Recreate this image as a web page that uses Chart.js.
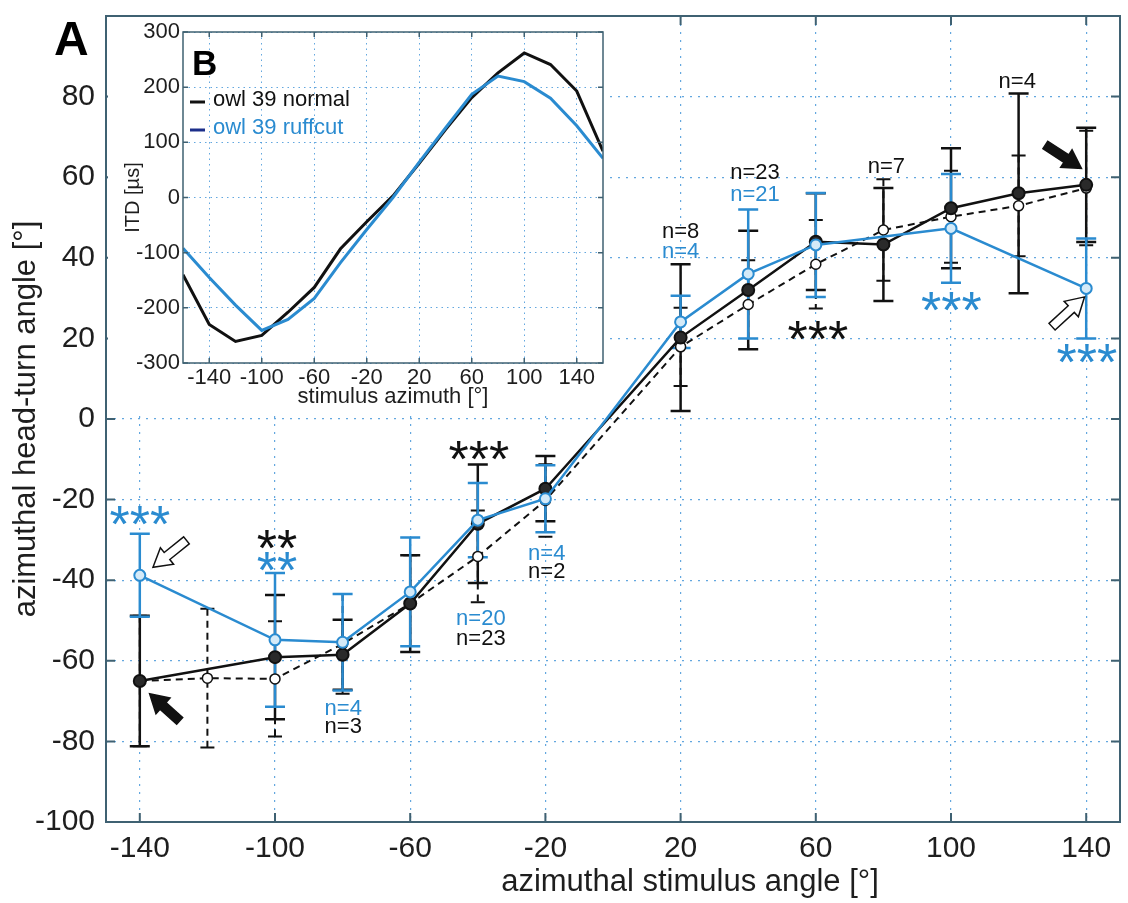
<!DOCTYPE html>
<html>
<head>
<meta charset="utf-8">
<script src="https://cdn.jsdelivr.net/npm/chart.js@4.4.1/dist/chart.umd.min.js"></script>
<style>
    html, body { margin: 0; padding: 0; background: #fff; }
    #wrap { position: relative; width: 1128px; height: 903px; }
    #main { position: absolute; left: 0; top: 0; }
    #inset { position: absolute; left: 108px; top: 17px; background: #fff; }
</style>
</head>
<body>
<div id="wrap">
    <canvas id="main" width="1128" height="903"></canvas>
    <canvas id="inset" width="500" height="393"></canvas>
</div>
<script>
// ---- panel A: head turns (mean +- sd) ----
const xTicks = [-140, -100, -60, -20, 20, 60, 100, 140]
const yTicks = [-100, -80, -60, -40, -20, 0, 20, 40, 60, 80]

// owl 39 ruffcut (blue)
const ruffAz = [-140, -100, -80, -60, -40, -20, 20, 40, 60, 100, 140]
const ruffMean = [-38.8, -54.8, -55.4, -42.9, -25.1, -19.8, 24.1, 36, 43.2, 47.3, 32.4]
const ruffSd = [10.3, 16.6, 12, 13.5, 9.2, 8.3, 6.5, 16, 12.9, 13.5, 12.4]

// owl 39 normal (solid black)
const normalAz = [-140, -100, -80, -60, -40, -20, 20, 40, 60, 80, 100, 120, 140]
const normalMean = [-65, -59.1, -58.5, -45.8, -26, -17.3, 20.2, 32, 44, 43.3, 52.3, 56, 58.1]
const normalSd = [16.2, 15.4, 8.7, 12, 14.7, 8.1, 18.2, 14.7, 12, 14, 14.9, 24.8, 14.2]

// population / reference curve (dashed black)
const refAz = [-140, -120, -100, -80, -60, -40, -20, 20, 40, 60, 80, 100, 120, 140]
const refMean = [-65, -64.3, -64.5, -55.8, -45.8, -34.1, -20.2, 17.9, 28.4, 38.4, 46.9, 50.2, 52.9, 57.3]
const refSd = [16.2, 17.2, 14.3, 12.4, 12, 11.4, 9, 9.7, 11, 11, 12.6, 11.4, 12.5, 14.2]

// ---- panel B: ITD vs azimuth ----
const itdAz = [-160, -140, -120, -100, -80, -60, -40, -20, 0, 20, 40, 60, 80, 100, 120, 140, 160]
const itdNormal = [-140, -230, -261, -250, -208, -163, -93, -44, 3, 62, 123, 181, 226, 262, 241, 193, 84]
const itdRuff = [-92, -145, -195, -241, -221, -183, -118, -58, 0, 64, 126, 187, 220, 210, 180, 130, 71]
const itdXTicks = [-140, -100, -60, -20, 20, 60, 100, 140]
const itdYTicks = [-300, -200, -100, 0, 100, 200, 300]

const FONT = "'Liberation Sans', Arial, sans-serif"
const BLUE = '#2a8bd0'
const INK = '#111111'
const TEXT = '#1e1e1e'
const AXIS = '#3f6172'
const GRID = 'rgba(60,145,215,0.8)'

// annotations in data units
const nLabels = [
    { text: 'n=8', x: 20, y: 46.4, color: INK },
    { text: 'n=4', x: 20, y: 41.4, color: BLUE },
    { text: 'n=23', x: 42, y: 61.1, color: INK },
    { text: 'n=21', x: 42, y: 55.6, color: BLUE },
    { text: 'n=7', x: 80.9, y: 62.6, color: INK },
    { text: 'n=4', x: 119.6, y: 83.7, color: INK },
    { text: 'n=4', x: -79.8, y: -71.9, color: BLUE },
    { text: 'n=3', x: -79.8, y: -76.5, color: INK },
    { text: 'n=20', x: -39.1, y: -49.6, color: BLUE },
    { text: 'n=23', x: -39.1, y: -54.6, color: INK },
    { text: 'n=4', x: -19.6, y: -33.4, color: BLUE },
    { text: 'n=2', x: -19.6, y: -38.0, color: INK }
]
const stars = [
    { text: '***', x: 60.6, y: 21.5, color: INK },
    { text: '***', x: 100.1, y: 28.8, color: BLUE },
    { text: '***', x: 140.2, y: 15.9, color: BLUE },
    { text: '***', x: -140, y: -24.4, color: BLUE },
    { text: '**', x: -99.4, y: -30.4, color: INK },
    { text: '**', x: -99.4, y: -35.8, color: BLUE },
    { text: '***', x: -39.7, y: -8.2, color: INK }
]
const arrows = [
    { from: [-128.2, -74.9], to: [-137.1, -68.2], fill: INK },
    { from: [-126.2, -30.1], to: [-136.1, -36.8], fill: '#fff' },
    { from: [127.9, 68.0], to: [138.6, 62.2], fill: INK },
    { from: [129.9, 22.9], to: [139.5, 30.3], fill: '#fff' }
]

const pts = (xs, ys) => xs.map((x, i) => ({ x: x, y: ys[i] }))

// axis sizes are fixed by hand, and the label overhang padding is dropped
const fixSize = (w, h) => s => {
    if (w) s.width = w
    if (h) s.height = h
    s.paddingTop = s.paddingBottom = s.paddingLeft = s.paddingRight = 0
}

// box round the axes plus MATLAB-style inward ticks
const frame = {
    id: 'frame',
    afterDraw(chart, args, opts) {
        const { ctx, chartArea: a, scales: { x, y } } = chart
        ctx.save()
        ctx.strokeStyle = AXIS
        ctx.lineWidth = opts.width
        ctx.strokeRect(a.left, a.top, a.right - a.left, a.bottom - a.top)
        ctx.beginPath()
        x.ticks.forEach(t => {
            const px = x.getPixelForValue(t.value)
            ctx.moveTo(px, a.bottom); ctx.lineTo(px, a.bottom - opts.tick)
            ctx.moveTo(px, a.top); ctx.lineTo(px, a.top + opts.tick)
        })
        y.ticks.forEach(t => {
            const py = y.getPixelForValue(t.value)
            ctx.moveTo(a.left, py); ctx.lineTo(a.left + opts.tick, py)
            ctx.moveTo(a.right, py); ctx.lineTo(a.right - opts.tick, py)
        })
        ctx.stroke()
        ctx.restore()
    }
}

const errorBars = {
    id: 'errorBars',
    beforeDatasetsDraw(chart) {
        const { ctx, scales: { x, y } } = chart
        chart.data.datasets.slice().reverse().forEach(ds => {
            if (!ds.sd) return
            ctx.save()
            ctx.strokeStyle = ds.borderColor
            ctx.lineWidth = ds.barWidth
            const half = ds.capWidth / 2
            ds.data.forEach((p, i) => {
                const px = x.getPixelForValue(p.x)
                const top = y.getPixelForValue(p.y + ds.sd[i])
                const bot = y.getPixelForValue(p.y - ds.sd[i])
                ctx.setLineDash(ds.borderDash || [])
                ctx.beginPath()
                ctx.moveTo(px, top); ctx.lineTo(px, bot)
                ctx.stroke()
                ctx.setLineDash([])
                ctx.beginPath()
                ctx.moveTo(px - half, top); ctx.lineTo(px + half, top)
                ctx.moveTo(px - half, bot); ctx.lineTo(px + half, bot)
                ctx.stroke()
            })
            ctx.restore()
        })
    }
}

function drawArrow(ctx, x0, y0, x1, y1, fill) {
    const len = Math.hypot(x1 - x0, y1 - y0)
    const dx = (x1 - x0) / len, dy = (y1 - y0) / len
    const nx = -dy, ny = dx
    const sw = 4.5, hw = 10.5, hl = 18
    const bx = x1 - dx * hl, by = y1 - dy * hl
    ctx.beginPath()
    ctx.moveTo(x0 + nx * sw, y0 + ny * sw)
    ctx.lineTo(bx + nx * sw, by + ny * sw)
    ctx.lineTo(bx + nx * hw, by + ny * hw)
    ctx.lineTo(x1, y1)
    ctx.lineTo(bx - nx * hw, by - ny * hw)
    ctx.lineTo(bx - nx * sw, by - ny * sw)
    ctx.lineTo(x0 - nx * sw, y0 - ny * sw)
    ctx.closePath()
    ctx.fillStyle = fill
    ctx.fill()
    ctx.lineWidth = 1.5
    ctx.strokeStyle = INK
    ctx.stroke()
}

const notes = {
    id: 'notes',
    afterDatasetsDraw(chart) {
        const { ctx, scales: { x, y } } = chart
        ctx.save()
        ctx.textAlign = 'center'
        ctx.textBaseline = 'middle'
        ctx.font = `22px ${FONT}`
        nLabels.forEach(n => {
            ctx.fillStyle = n.color
            ctx.fillText(n.text, x.getPixelForValue(n.x), y.getPixelForValue(n.y))
        })
        // asterisk glyphs sit high in the em box, so shift the baseline down
        ctx.font = `52px ${FONT}`
        ctx.textBaseline = 'alphabetic'
        stars.forEach(s => {
            ctx.fillStyle = s.color
            ctx.fillText(s.text, x.getPixelForValue(s.x), y.getPixelForValue(s.y) + 52 * 0.48)
        })
        arrows.forEach(a => {
            drawArrow(ctx, x.getPixelForValue(a.from[0]), y.getPixelForValue(a.from[1]),
                x.getPixelForValue(a.to[0]), y.getPixelForValue(a.to[1]), a.fill)
        })
        ctx.restore()
    },
    afterDraw(chart) {
        const { ctx } = chart
        ctx.save()
        ctx.fillStyle = '#000'
        ctx.font = `bold 48px ${FONT}`
        ctx.textBaseline = 'alphabetic'
        ctx.fillText('A', 54, 55)
        ctx.fillStyle = TEXT
        ctx.font = `31px ${FONT}`
        ctx.textAlign = 'center'
        ctx.textBaseline = 'middle'
        ctx.fillText('azimuthal stimulus angle [°]', 690, 882)
        ctx.restore()
    }
}

new Chart(document.getElementById('main'), {
    type: 'line',
    data: {
        datasets: [{
            label: 'owl 39 ruffcut',
            data: pts(ruffAz, ruffMean),
            sd: ruffSd, capWidth: 20, barWidth: 2.5,
            borderColor: BLUE, borderWidth: 2.5,
            pointRadius: 5.5, pointBorderWidth: 2,
            pointBackgroundColor: '#d4eaf8', pointBorderColor: BLUE
        }, {
            label: 'owl 39 normal',
            data: pts(normalAz, normalMean),
            sd: normalSd, capWidth: 20, barWidth: 2.5,
            borderColor: INK, borderWidth: 2.5,
            pointRadius: 6, pointBorderWidth: 2,
            pointBackgroundColor: '#2a2a2a', pointBorderColor: INK
        }, {
            label: 'reference',
            data: pts(refAz, refMean),
            sd: refSd, capWidth: 14, barWidth: 2,
            borderColor: INK, borderWidth: 2, borderDash: [7, 5],
            pointRadius: 5, pointBorderWidth: 1.5,
            pointBackgroundColor: '#fff', pointBorderColor: INK
        }]
    },
    options: {
        responsive: false,
        animation: false,
        devicePixelRatio: 1,
        layout: { padding: { top: 16, right: 5, left: 0, bottom: 0 } },
        plugins: {
            legend: { display: false },
            tooltip: { enabled: false },
            frame: { width: 2, tick: 9 }
        },
        elements: { line: { tension: 0 } },
        scales: {
            x: {
                type: 'linear', min: -150, max: 150,
                afterBuildTicks: s => { s.ticks = xTicks.map(v => ({ value: v })) },
                afterFit: fixSize(0, 81),
                ticks: { font: { family: FONT, size: 30 }, color: TEXT, padding: 9, maxRotation: 0 },
                grid: { color: GRID, drawTicks: false, lineWidth: 1.2 },
                border: { display: false, dash: [2, 6] }
            },
            y: {
                type: 'linear', min: -100, max: 100,
                afterBuildTicks: s => { s.ticks = yTicks.map(v => ({ value: v })) },
                afterFit: fixSize(106, 0),
                ticks: { font: { family: FONT, size: 30 }, color: TEXT, padding: 11 },
                grid: { color: GRID, drawTicks: false, lineWidth: 1.2 },
                border: { display: false, dash: [2, 6] },
                title: {
                    display: true, text: 'azimuthal head-turn angle [°]', color: TEXT,
                    font: { family: FONT, size: 31 }, padding: { top: 8, bottom: 0 }
                }
            }
        }
    },
    plugins: [errorBars, notes, frame]
})

// ---- inset B ----
const insetNotes = {
    id: 'insetNotes',
    afterDraw(chart) {
        const { ctx } = chart
        ctx.save()
        ctx.fillStyle = '#000'
        ctx.font = `bold 35px ${FONT}`
        ctx.fillText('B', 84, 58)
        ctx.font = `22px ${FONT}`
        ctx.textBaseline = 'middle'
        const rows = [
            { text: 'owl 39 normal', line: INK, color: INK, y: 83 },
            { text: 'owl 39 ruffcut', line: '#1c2f8a', color: BLUE, y: 111 }
        ]
        rows.forEach(r => {
            ctx.strokeStyle = r.line
            ctx.lineWidth = 3
            ctx.beginPath()
            ctx.moveTo(82, r.y + 2); ctx.lineTo(97, r.y + 2)
            ctx.stroke()
            ctx.fillStyle = r.color
            ctx.fillText(r.text, 105, r.y)
        })
        ctx.restore()
    }
}

new Chart(document.getElementById('inset'), {
    type: 'line',
    data: {
        datasets: [{
            label: 'owl 39 ruffcut',
            data: pts(itdAz, itdRuff),
            borderColor: BLUE, borderWidth: 3, pointRadius: 0
        }, {
            label: 'owl 39 normal',
            data: pts(itdAz, itdNormal),
            borderColor: INK, borderWidth: 3, pointRadius: 0
        }]
    },
    options: {
        responsive: false,
        animation: false,
        devicePixelRatio: 1,
        layout: { padding: { top: 15, right: 5, left: 0, bottom: 0 } },
        plugins: {
            legend: { display: false },
            tooltip: { enabled: false },
            frame: { width: 1.5, tick: 5 }
        },
        elements: { line: { tension: 0 } },
        scales: {
            x: {
                type: 'linear', min: -160, max: 160,
                afterBuildTicks: s => { s.ticks = itdXTicks.map(v => ({ value: v })) },
                afterFit: fixSize(0, 47),
                ticks: { font: { family: FONT, size: 22 }, color: TEXT, padding: 2, maxRotation: 0 },
                grid: { color: GRID, drawTicks: false, lineWidth: 1 },
                border: { display: false, dash: [1.5, 4] },
                title: {
                    display: true, text: 'stimulus azimuth [°]', color: TEXT,
                    font: { family: FONT, size: 22 }, padding: { top: 0, bottom: 0 }
                }
            },
            y: {
                type: 'linear', min: -300, max: 300,
                afterBuildTicks: s => { s.ticks = itdYTicks.map(v => ({ value: v })) },
                afterFit: fixSize(75, 0),
                ticks: { font: { family: FONT, size: 22 }, color: TEXT, padding: 3 },
                grid: { color: GRID, drawTicks: false, lineWidth: 1 },
                border: { display: false, dash: [1.5, 4] },
                title: {
                    display: true, text: 'ITD [µs]', color: TEXT,
                    font: { family: FONT, size: 20 }, padding: { top: 13, bottom: 0 }
                }
            }
        }
    },
    plugins: [insetNotes, frame]
})
</script>
</body>
</html>
